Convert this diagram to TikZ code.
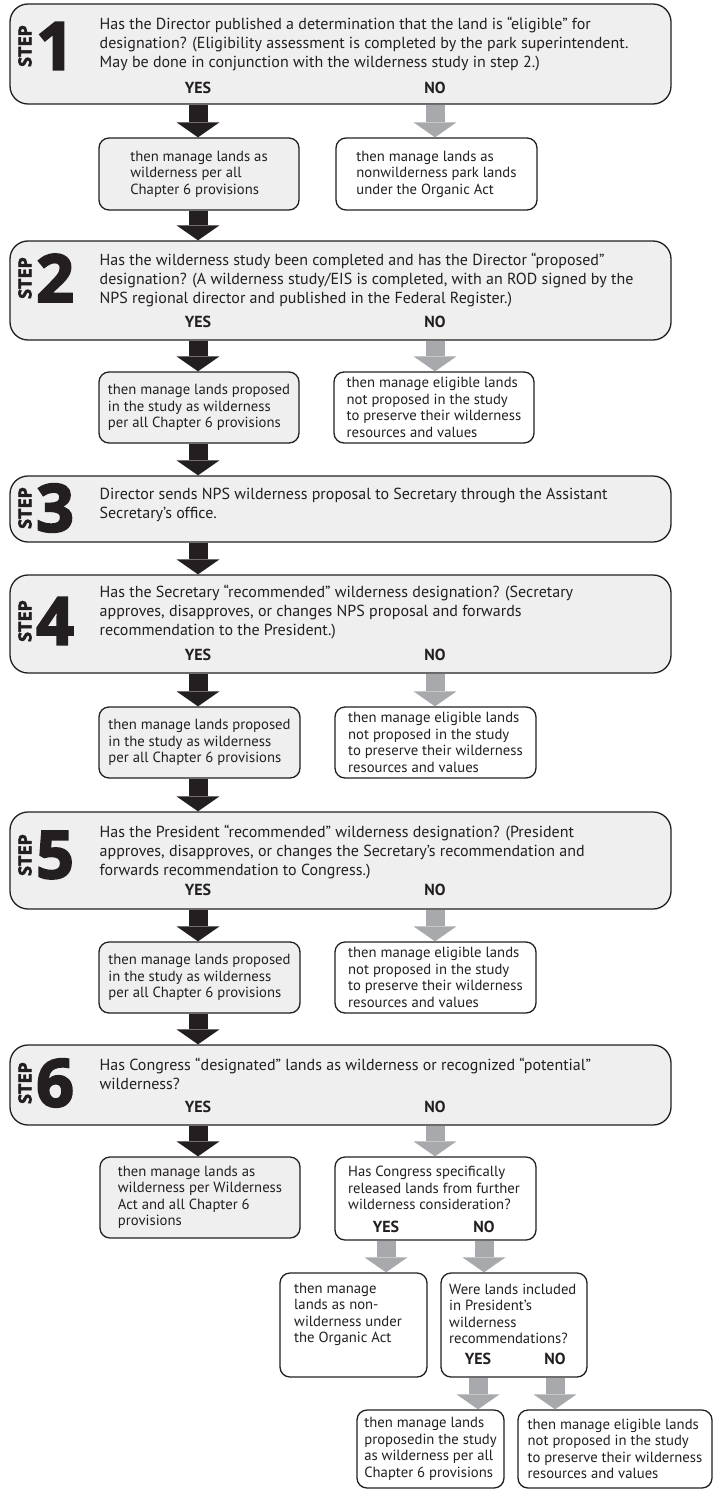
\documentclass[tikz,border=0pt]{standalone}
\usepackage{fontspec}
\setmainfont{PT Sans}
\newfontfamily\heavyfont[FakeBold=3]{Open Sans}
\usetikzlibrary{arrows.meta}
\definecolor{inkc}{HTML}{231F20}
\definecolor{noc}{HTML}{A7A9AC}
\definecolor{panel}{HTML}{EFEFEF}

\begin{document}
\begin{tikzpicture}[
    x=1pt, y=-1pt,
    stepbox/.style = {draw=inkc, line width=1.3pt, fill=panel, rounded corners=18pt, minimum width=661pt, inner sep=0pt},
    qtext/.style = {anchor=west, align=left, inner sep=0pt, text=inkc, font=\fontsize{16}{19}\selectfont},
    yn/.style = {inner sep=0pt, text=inkc, font=\fontsize{16}{18}\selectfont\bfseries},
    steplabel/.style = {rotate=90, inner sep=0pt, text=inkc, font=\heavyfont\bfseries\fontsize{18}{18}\selectfont},
    stepnum/.style = {anchor=west, inner sep=0pt, text=inkc, font=\heavyfont\bfseries\fontsize{66}{66}\selectfont},
    yesbox/.style = {draw=inkc, line width=1.3pt, fill=panel, rounded corners=10pt, align=left, inner sep=0pt, text=inkc, font=\fontsize{14.7}{16.5}\selectfont},
    nobox/.style = {yesbox, fill=white},
    boxtext/.style = {anchor=north west, align=left, inner sep=0pt, text=inkc, font=\fontsize{14.7}{16.5}\selectfont},
    yesarrow/.style = {draw=inkc, line width=19pt, -{Triangle[length=15pt, width=43pt, line width=0pt]}},
    noarrow/.style = {yesarrow, draw=noc}
]
    \useasboundingbox (0,0) rectangle (714,1490);

    % step 1
    \node [stepbox, minimum height=100pt] (s1) at (340.5,54) {};
    \node [steplabel] (st1) at (25,46) {STEP};
    \node [stepnum] (d1) at (36,46) {1};
    \node [qtext] (q1) at (99.5,44) {Has the Director published a determination that the land is “eligible” for\\designation? (Eligibility assessment is completed by the park superintendent.\\May be done in conjunction with the wilderness study in step 2.)};
    \node [yn] (ya1) at (198,88) {YES};
    \node [yn] (na1) at (435,88) {NO};
    \node [yesbox, minimum width=200pt, minimum height=72pt] (y1) at (199,174) {then manage lands as\\wilderness per all\\Chapter 6 provisions};
    \node [nobox, minimum width=201pt, minimum height=72pt] (n1) at (436.5,174) {then manage lands as\\nonwilderness park lands\\under the Organic Act};

    % step 2
    \node [stepbox, minimum height=99pt] (s2) at (340.5,290.5) {};
    \node [steplabel] (st2) at (25,278) {STEP};
    \node [stepnum] (d2) at (36,278) {2};
    \node [qtext] (q2) at (99.5,280.5) {Has the wilderness study been completed and has the Director “proposed”\\designation? (A wilderness study/EIS is completed, with an ROD signed by the\\NPS regional director and published in the Federal Register.)};
    \node [yn] (ya2) at (198,322) {YES};
    \node [yn] (na2) at (435,322) {NO};
    \node [yesbox, minimum width=200pt, minimum height=71pt] (y2) at (199,407.5) {then manage lands proposed\\in the study as wilderness\\per all Chapter 6 provisions};
    \node [nobox, minimum width=200pt, minimum height=71pt] (n2) at (434,407.5) {then manage eligible lands\\not proposed in the study\\to preserve their wilderness\\resources and values};

    % step 3
    \node [stepbox, minimum height=66pt] (s3) at (340.5,509) {};
    \node [steplabel] (st3) at (25,508) {STEP};
    \node [stepnum] (d3) at (36,508) {3};
    \node [qtext] (q3) at (99.5,504.5) {Director sends NPS wilderness proposal to Secretary through the Assistant\\Secretary’s office.};

    % step 4
    \node [stepbox, minimum height=98pt] (s4) at (340.5,624) {};
    \node [steplabel] (st4) at (25,621) {STEP};
    \node [stepnum] (d4) at (36,621) {4};
    \node [qtext] (q4) at (99.5,612.5) {Has the Secretary “recommended” wilderness designation? (Secretary\\approves, disapproves, or changes NPS proposal and forwards\\recommendation to the President.)};
    \node [yn] (ya4) at (198,655) {YES};
    \node [yn] (na4) at (435,655) {NO};
    \node [yesbox, minimum width=201pt, minimum height=71pt] (y4) at (199.5,742.5) {then manage lands proposed\\in the study as wilderness\\per all Chapter 6 provisions};
    \node [nobox, minimum width=201pt, minimum height=71pt] (n4) at (435.5,742.5) {then manage eligible lands\\not proposed in the study\\to preserve their wilderness\\resources and values};

    % step 5
    \node [stepbox, minimum height=97pt] (s5) at (340.5,860.5) {};
    \node [steplabel] (st5) at (25,855) {STEP};
    \node [stepnum] (d5) at (36,855) {5};
    \node [qtext] (q5) at (99.5,852.5) {Has the President “recommended” wilderness designation? (President\\approves, disapproves, or changes the Secretary’s recommendation and\\forwards recommendation to Congress.)};
    \node [yn] (ya5) at (198,890) {YES};
    \node [yn] (na5) at (435,890) {NO};
    \node [yesbox, minimum width=201pt, minimum height=71pt] (y5) at (199.5,977.5) {then manage lands proposed\\in the study as wilderness\\per all Chapter 6 provisions};
    \node [nobox, minimum width=201pt, minimum height=71pt] (n5) at (435.5,977.5) {then manage eligible lands\\not proposed in the study\\to preserve their wilderness\\resources and values};

    % step 6
    \node [stepbox, minimum height=80pt] (s6) at (340.5,1085) {};
    \node [steplabel] (st6) at (25,1083) {STEP};
    \node [stepnum] (d6) at (36,1083) {6};
    \node [qtext] (q6) at (99.5,1074) {Has Congress “designated” lands as wilderness or recognized “potential”\\wilderness?};
    \node [yn] (ya6) at (198,1107) {YES};
    \node [yn] (na6) at (435,1107) {NO};
    \node [yesbox, minimum width=200pt, minimum height=81pt] (y6) at (200,1197.5) {then manage lands as\\wilderness per Wilderness\\Act and all Chapter 6\\provisions};
    \node [nobox, minimum width=201pt, minimum height=83pt] (cong) at (435.5,1198.5) {};
    \node [boxtext] (cq) at (348,1166) {Has Congress specifically\\released lands from further\\wilderness consideration?};
    \node [yn] (ya7) at (386,1227) {YES};
    \node [yn] (na7) at (484,1227) {NO};

    % after congress
    \node [nobox, minimum width=147pt, minimum height=104pt] (nw) at (353.5,1325) {};
    \node [boxtext] (nwq) at (294,1282.5) {then manage\\lands as non-\\wilderness under\\the Organic Act};
    \node [nobox, minimum width=146pt, minimum height=104pt] (were) at (514,1325) {};
    \node [boxtext] (wq) at (449,1283.5) {Were lands included\\in President’s\\wilderness\\recommendations?};
    \node [yn] (ya8) at (478,1359) {YES};
    \node [yn] (na8) at (555,1359) {NO};
    \node [nobox, minimum width=147pt, minimum height=78pt] (b1) at (430.5,1449) {then manage lands\\proposedin the study\\as wilderness per all\\Chapter 6 provisions};
    \node [nobox, minimum width=194pt, minimum height=78pt] (b2) at (615,1449) {then manage eligible lands\\not proposed in the study\\to preserve their wilderness\\resources and values};

    % arrows
    \draw [yesarrow] (ya1 |- s1.south) -- (ya1 |- y1.north);
    \draw [noarrow] (na1 |- s1.south) -- (na1 |- n1.north);
    \draw [yesarrow] (ya1 |- y1.south) -- (ya1 |- s2.north);
    \draw [yesarrow] (ya2 |- s2.south) -- (ya2 |- y2.north);
    \draw [noarrow] (na2 |- s2.south) -- (na2 |- n2.north);
    \draw [yesarrow] (ya2 |- y2.south) -- (ya2 |- s3.north);
    \draw [yesarrow] (ya2 |- s3.south) -- (ya2 |- s4.north);
    \draw [yesarrow] (ya4 |- s4.south) -- (ya4 |- y4.north);
    \draw [noarrow] (na4 |- s4.south) -- (na4 |- n4.north);
    \draw [yesarrow] (ya4 |- y4.south) -- (ya4 |- s5.north);
    \draw [yesarrow] (ya5 |- s5.south) -- (ya5 |- y5.north);
    \draw [noarrow] (na5 |- s5.south) -- (na5 |- n5.north);
    \draw [yesarrow] (ya5 |- y5.south) -- (ya5 |- s6.north);
    \draw [yesarrow] (ya6 |- s6.south) -- (ya6 |- y6.north);
    \draw [noarrow] (na6 |- s6.south) -- (na6 |- cong.north);
    \draw [noarrow] (ya7 |- cong.south) -- (ya7 |- nw.north);
    \draw [noarrow] (na7 |- cong.south) -- (na7 |- were.north);
    \draw [noarrow] (ya8 |- were.south) -- (ya8 |- b1.north);
    \draw [noarrow] (na8 |- were.south) -- (na8 |- b2.north);
\end{tikzpicture}
\end{document}
